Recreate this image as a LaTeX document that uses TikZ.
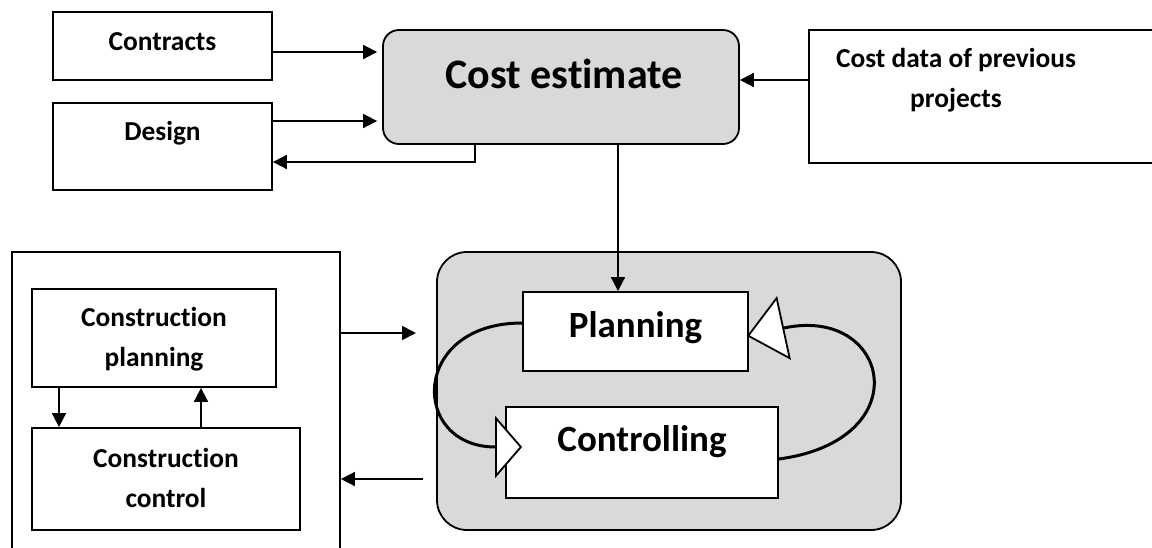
\documentclass[tikz,border=0pt]{standalone}
\usepackage{fontspec}
\setmainfont{Carlito}[Ligatures={NoCommon,NoContextual}]
\usetikzlibrary{arrows.meta}
\definecolor{boxgray}{HTML}{D9D9D9}
\begin{document}
\begin{tikzpicture}[x=0.5pt,y=-0.5pt,
  box/.style={draw, line width=0.9pt, rectangle, inner sep=0pt},
  grayround/.style={box, fill=boxgray},
  small/.style={font=\bfseries\fontsize{13.7}{20}\selectfont, align=center, inner sep=0pt},
  big/.style={font=\bfseries\fontsize{18.5}{22}\selectfont, inner sep=0pt},
  arr/.style={line width=0.9pt, -{Triangle[length=7pt,width=7pt]}},
  loop/.style={line width=1.5pt}
]
\useasboundingbox (0,0) rectangle (1152,547);
\clip (0,0) rectangle (1152,547);

% top row
\node[box, minimum width=109.5pt, minimum height=34pt] (contracts) at (162.5,46) {};
\node[small] (contractsT) at (162.5,42) {Contracts};
\node[box, minimum width=109.5pt, minimum height=43.5pt] (design) at (162.5,146.5) {};
\node[small] (designT) at (162.5,133) {Design};
\node[grayround, rounded corners=8pt, minimum width=178pt, minimum height=57pt] (cost) at (561,87) {};
\node[big, font=\bfseries\fontsize{21}{24}\selectfont] (costT) at (564,74) {Cost estimate};
\node[box, minimum width=180.5pt, minimum height=66.5pt] (costdata) at (989.5,96.5) {};
\node[small] (costdataT) at (956,80) {Cost data of previous\\projects};

% left group
\node[box, minimum width=164pt, minimum height=174pt] (outer) at (176,426) {};
\node[box, minimum width=122pt, minimum height=49pt] (cp) at (154,338) {};
\node[small] (cpT) at (154,339) {Construction\\planning};
\node[box, minimum width=134pt, minimum height=51pt] (cc) at (166,479) {};
\node[small] (ccT) at (166,478) {Construction\\control};

% right group
\node[grayround, rounded corners=15pt, minimum width=232pt, minimum height=139pt] (pc) at (669,391) {};
\node[box, fill=white, minimum width=112.5pt, minimum height=39.5pt] (planning) at (635.5,331.5) {};
\node[big] (planningT) at (635.5,328) {Planning};
\node[box, fill=white, minimum width=136pt, minimum height=45.5pt] (controlling) at (642,452.5) {};
\node[big] (controllingT) at (642,442) {Controlling};

% arrows top
\draw[arr, shorten >=2.5pt] ([yshift=-3pt]contracts.east) -- ([yshift=-3pt]contracts.east -| cost.west);
\draw[arr, shorten >=2.5pt] ([yshift=12.75pt]design.east) -- ([yshift=12.75pt]design.east -| cost.west);
\draw[arr] ([xshift=-43pt]cost.south) |- ([yshift=-7.75pt]design.east);
\draw[arr] ([yshift=8.25pt]costdata.west) -- ([yshift=8.25pt]costdata.west -| cost.east);
\draw[arr] ([xshift=28.5pt]cost.south) -- ([xshift=28.5pt]cost.south |- planning.north);

% arrows left group
\coordinate (inTip) at (416,333);
\coordinate (outStart) at (423,479);
\draw[arr] (outer.east |- inTip) -- (inTip);
\draw[arr] (outStart) -- (outStart -| outer.east);
\draw[arr] ([xshift=-47.5pt]cp.south) -- ([xshift=-47.5pt]cp.south |- cc.north);
\draw[arr] ([xshift=17.5pt]cc.north) -- ([xshift=17.5pt]cc.north |- cp.south);

% loop
\draw[loop, -{Triangle[length=13.5pt,width=31pt,fill=white,line width=0.9pt]}]
  ([yshift=4.25pt]planning.west) .. controls (410,323) and (410,447) .. ([xshift=8.5pt,yshift=2.75pt]controlling.west);
\draw[loop, -{Triangle[length=19pt,width=32.5pt,fill=white,line width=0.9pt]}]
  ([yshift=-3.25pt]controlling.east) .. controls (920,440) and (890,305) .. ([xshift=-1pt,yshift=-2.25pt]planning.east);
\end{tikzpicture}
\end{document}
